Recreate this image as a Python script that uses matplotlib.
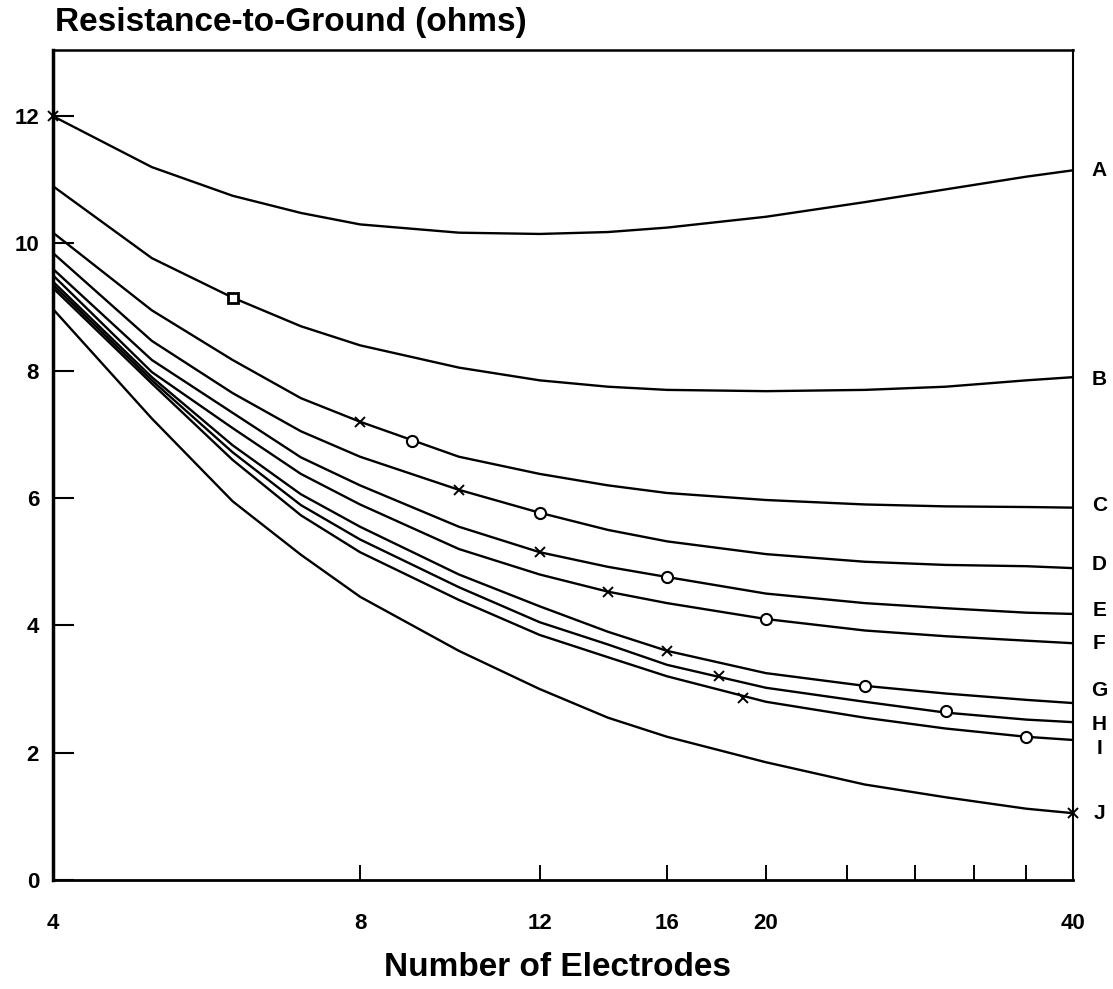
import matplotlib
matplotlib.use("Agg")
import matplotlib.pyplot as plt
import numpy as np
from matplotlib.ticker import FixedLocator, NullLocator, FixedFormatter, NullFormatter

plt.rcParams['font.family'] = ['Liberation Sans', 'DejaVu Sans']

# ---------------- data ----------------
x_pts = [4, 5, 6, 7, 8, 10, 12, 14, 16, 20, 25, 30, 36, 40]

curve_A = [12.0, 11.2, 10.75, 10.48, 10.3, 10.17, 10.15, 10.18, 10.25, 10.42, 10.65, 10.85, 11.05, 11.15]
curve_B = [10.9, 9.77, 9.15, 8.7, 8.4, 8.05, 7.85, 7.75, 7.7, 7.68, 7.7, 7.75, 7.85, 7.9]
curve_C = [10.17, 8.95, 8.17, 7.57, 7.2, 6.65, 6.38, 6.2, 6.08, 5.97, 5.9, 5.87, 5.86, 5.85]
curve_D = [9.85, 8.47, 7.65, 7.05, 6.65, 6.13, 5.77, 5.5, 5.32, 5.12, 5.0, 4.95, 4.93, 4.9]
curve_E = [9.6, 8.17, 7.34, 6.64, 6.2, 5.55, 5.15, 4.92, 4.76, 4.5, 4.35, 4.27, 4.2, 4.18]
curve_F = [9.5, 7.98, 7.1, 6.38, 5.9, 5.2, 4.8, 4.53, 4.35, 4.1, 3.92, 3.83, 3.76, 3.72]
curve_G = [9.4, 7.9, 6.83, 6.06, 5.55, 4.8, 4.3, 3.9, 3.6, 3.25, 3.05, 2.93, 2.83, 2.78]
curve_H = [9.35, 7.85, 6.72, 5.89, 5.35, 4.6, 4.05, 3.7, 3.38, 3.02, 2.8, 2.63, 2.52, 2.48]
curve_I = [9.3, 7.8, 6.6, 5.73, 5.15, 4.4, 3.85, 3.5, 3.2, 2.8, 2.55, 2.38, 2.25, 2.2]
curve_J = [8.97, 7.25, 5.95, 5.11, 4.45, 3.6, 3.0, 2.55, 2.25, 1.85, 1.5, 1.3, 1.12, 1.05]

curve_names = ['A', 'B', 'C', 'D', 'E', 'F', 'G', 'H', 'I', 'J']
curves = [curve_A, curve_B, curve_C, curve_D, curve_E,
          curve_F, curve_G, curve_H, curve_I, curve_J]

# marker points
x_marks_x = [4, 8, 10, 12, 14, 16, 18, 19, 40]
x_marks_y = [12.0, 7.2, 6.13, 5.15, 4.53, 3.6, 3.2, 2.86, 1.05]
o_marks_x = [9, 12, 16, 20, 25, 30, 36]
o_marks_y = [6.9, 5.77, 4.76, 4.1, 3.05, 2.65, 2.25]
sq_marks_x = [6]
sq_marks_y = [9.15]

x_tick_labels = ['4', '8', '12', '16', '20', '40']
x_minor_ticks = [8, 12, 16, 20, 24, 28, 32, 36]
y_ticks = [0, 2, 4, 6, 8, 10, 12]

title = 'Resistance-to-Ground (ohms)'
xlabel = 'Number of Electrodes'

# label vertical nudges (style)
label_nudge = {'A': 0.0, 'B': -0.03, 'C': 0.03, 'D': 0.06, 'E': 0.05,
               'F': 0.0, 'G': 0.19, 'H': -0.03, 'I': -0.13, 'J': 0.0}

# ---------------- figure ----------------
fig = plt.figure(figsize=(11.13, 9.89), dpi=100)
ax = fig.add_axes([53/1113, 1-880/989, (1073-53)/1113, (880-50)/989])

ax.set_xscale('log')
ax.set_xlim(4, 40)
ax.set_ylim(0, 13.04)

for name, ys in zip(curve_names, curves):
    ax.plot(x_pts, ys, color='black', lw=1.7, solid_joinstyle='round',
            solid_capstyle='round')
    ax.annotate(name, xy=(1.0, ys[-1] + label_nudge[name]),
                xycoords=('axes fraction', 'data'),
                xytext=(19, 0), textcoords='offset points',
                ha='center', va='center', fontsize=15, fontweight='bold',
                annotation_clip=False)

ax.plot(x_marks_x, x_marks_y, linestyle='none', marker='x', color='black',
        ms=7, mew=1.4, clip_on=False)
ax.plot(o_marks_x, o_marks_y, linestyle='none', marker='o', color='black',
        mfc='white', ms=8, mew=1.5, clip_on=False)
ax.plot(sq_marks_x, sq_marks_y, linestyle='none', marker='s', color='black',
        mfc='white', ms=7, mew=2.0, clip_on=False)

# axes styling
for side, lw in [('left', 2.5), ('bottom', 2.0), ('top', 1.8), ('right', 1.5)]:
    ax.spines[side].set_linewidth(lw)
    ax.spines[side].set_color('black')

ax.xaxis.remove_overlapping_locs = False
ax.xaxis.set_major_locator(FixedLocator([float(t) for t in x_tick_labels]))
ax.xaxis.set_major_formatter(FixedFormatter(x_tick_labels))
ax.xaxis.set_minor_locator(FixedLocator(x_minor_ticks))
ax.xaxis.set_minor_formatter(NullFormatter())
ax.tick_params(axis='x', which='major', length=0, pad=24, labelsize=16)
ax.tick_params(axis='x', which='minor', direction='in', length=11, width=1.4,
               top=False)
for lbl in ax.get_xticklabels():
    lbl.set_fontweight('bold')

ax.set_yticks(y_ticks)
ax.yaxis.set_minor_locator(NullLocator())
ax.tick_params(axis='y', which='major', direction='in', length=15, width=1.5,
               pad=10, labelsize=16)
for lbl in ax.get_yticklabels():
    lbl.set_fontweight('bold')

fig.text(55/1113, 1-22/989, title, fontsize=24, fontweight='bold',
         ha='left', va='center')
fig.text(557/1113, 1-968/989, xlabel, fontsize=24, fontweight='bold',
         ha='center', va='center')

fig.savefig('out.png', dpi=100, facecolor='white')
